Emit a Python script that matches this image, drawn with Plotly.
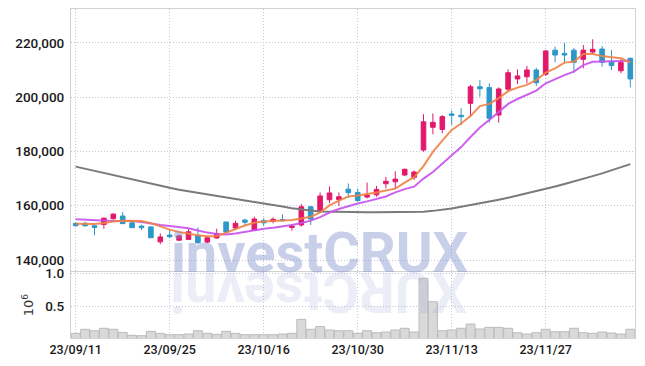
import plotly.graph_objects as go
from plotly.subplots import make_subplots

dates = (
    ["2023-09-%02d" % d for d in [11, 12, 13, 14, 15, 18, 19, 20, 21, 22, 25, 26, 27]]
    + ["2023-10-%02d" % d for d in [4, 5, 6, 10, 11, 12, 13, 16, 17, 18, 19, 20, 23, 24, 25, 26, 27, 30, 31]]
    + ["2023-11-%02d" % d for d in [1, 2, 3, 6, 7, 8, 9, 10, 13, 14, 15, 16, 17, 20, 21, 22, 23, 24, 27, 28, 29, 30]]
    + ["2023-12-%02d" % d for d in [1, 4, 5, 6, 7, 8]]
)

open_ = [153500, 153500, 152600, 153100, 155200, 156200, 153700, 152500, 152200, 146700,
         149200, 147300, 147600, 149100, 146600, 148100, 154000, 151800, 154700, 151000,
         154500, 154200, 154900, 152000, 152900, 159600, 158000, 162200, 162300, 166100,
         164900, 163200, 164000, 168100, 168800, 171300, 170400, 180500, 188900, 188100,
         193800, 193300, 197700, 203800, 203500, 193400, 202900, 206700, 207500, 210000,
         208400, 217300, 216100, 217300, 213900, 216600, 217700, 213000, 209700, 214300]
high = [153800, 154100, 153000, 155700, 157300, 157700, 154700, 153000, 152300, 149800,
        151300, 149400, 151500, 152000, 148700, 151500, 154200, 154500, 155200, 156000,
        155400, 155700, 156800, 153300, 160600, 159900, 164900, 167100, 164900, 168200,
        166300, 168500, 167300, 170600, 172700, 173700, 173000, 193700, 194000, 193400,
        195100, 195900, 204500, 206300, 205100, 203600, 210200, 210200, 211500, 210800,
        217300, 218600, 220000, 218000, 219200, 221300, 218800, 217300, 213900, 214500]
low = [152300, 152300, 149100, 151500, 154900, 153300, 151800, 151000, 148100, 145800,
       148000, 147000, 147400, 145800, 146200, 147900, 149800, 151000, 152500, 150900,
       152500, 153500, 154200, 150800, 152300, 152900, 157300, 161000, 159900, 163000,
       161500, 162700, 163300, 166400, 166100, 170900, 169500, 179900, 186300, 186700,
       189700, 189700, 192600, 200100, 190600, 190600, 202000, 204800, 205100, 204100,
       207800, 212800, 212400, 209000, 210600, 215900, 211200, 210000, 208800, 203600]
close = [152600, 152600, 152000, 155400, 156900, 153400, 151900, 151900, 148200, 148500,
         148600, 148900, 150400, 146400, 148200, 149700, 150300, 153500, 153900, 155100,
         153700, 155000, 154500, 152500, 159600, 155100, 163600, 164700, 163300, 164800,
         161900, 163900, 166000, 169000, 169800, 173400, 172400, 190900, 190700, 192800,
         193300, 192800, 203800, 203100, 192200, 203000, 209000, 207800, 210000, 205300,
         217000, 215500, 215500, 212800, 217300, 217600, 212800, 211600, 212700, 206700]

ma5 = [153400, 153300, 153300, 153600, 154200, 154500, 154500, 154400, 153600, 152300,
       151200, 150300, 149600, 149100, 148800, 148800, 150100, 151400, 152700, 153700,
       154200, 154400, 154600, 154700, 155300, 155900, 157500, 160100, 161900, 163400,
       163800, 164300, 164900, 165600, 166300, 168500, 170500, 174600, 179800, 184000,
       187900, 190300, 193000, 196700, 197500, 199600, 202200, 203500, 204500, 206300,
       209000, 210600, 212700, 213000, 215900, 215900, 215100, 214700, 214300, 212700]
ma10 = [155000, 154800, 154600, 154500, 154400, 154400, 154400, 154000, 153400, 152900,
        152500, 152000, 151700, 150900, 150100, 149600, 149400, 149800, 150400, 151000,
        151500, 151900, 152300, 152900, 153600, 154500, 155800, 157500, 158800, 159900,
        160800, 161600, 162400, 163400, 164900, 166100, 167000, 170000, 172400, 175400,
        178300, 181600, 185300, 188800, 191600, 194500, 197500, 199300, 200800, 202400,
        205100, 206700, 208100, 209400, 211800, 213000, 213100, 213300, 213400, 213400]
ma_long = [174400, 173600, 172800, 172000, 171300, 170500, 169700, 168900, 168100, 167300,
           166600, 165900, 165300, 164700, 164100, 163500, 163000, 162400, 161900, 161400,
           160900, 160300, 159700, 159100, 158600, 158200, 157900, 157800, 157700, 157700,
           157600, 157600, 157600, 157600, 157600, 157600, 157600, 157800, 158100, 158500,
           159000, 159600, 160200, 160800, 161500, 162200, 162900, 163700, 164500, 165300,
           166200, 167100, 168000, 168900, 169900, 170900, 171900, 173000, 174100, 175300]

volume = [0.105, 0.165, 0.144, 0.180, 0.165, 0.120, 0.076, 0.070, 0.135, 0.105,
          0.085, 0.085, 0.095, 0.144, 0.105, 0.090, 0.135, 0.105, 0.085, 0.085,
          0.085, 0.085, 0.095, 0.105, 0.313, 0.165, 0.205, 0.155, 0.144, 0.144,
          0.105, 0.144, 0.114, 0.125, 0.155, 0.180, 0.125, 0.920, 0.574, 0.144,
          0.155, 0.180, 0.243, 0.170, 0.194, 0.194, 0.180, 0.114, 0.095, 0.114,
          0.165, 0.129, 0.129, 0.180, 0.114, 0.105, 0.125, 0.110, 0.095, 0.165]

tick_dates = ["2023-09-11", "2023-09-25", "2023-10-16", "2023-10-30", "2023-11-13", "2023-11-27"]
tick_text = ["23/09/11", "23/09/25", "23/10/16", "23/10/30", "23/11/13", "23/11/27"]
price_ticks = [140000, 160000, 180000, 200000, 220000]
watermark = "investCRUX"

UP = "#e2186a"
DOWN = "#2c98c9"
GRID = "#c4c7dc"
BORDER = "#d2d2d2"
YFONT = dict(family="Roboto", size=13.5, color="#1a1a1a", weight=500)
XFONT = dict(family="Roboto", size=12.5, color="#1a1a1a", weight=500)

fig = make_subplots(rows=2, cols=1, shared_xaxes=True, vertical_spacing=0.003)

fig.add_trace(go.Candlestick(
    x=dates, open=open_, high=high, low=low, close=close,
    increasing=dict(line=dict(color=UP, width=1), fillcolor=UP),
    decreasing=dict(line=dict(color=DOWN, width=1), fillcolor=DOWN),
    whiskerwidth=0, showlegend=False, hoverinfo="skip"), row=1, col=1)

fig.add_trace(go.Scatter(x=dates, y=ma_long, mode="lines",
                         line=dict(color="#7a7a7a", width=2), showlegend=False), row=1, col=1)
fig.add_trace(go.Scatter(x=dates, y=ma10, mode="lines",
                         line=dict(color="rgba(200,80,235,0.9)", width=2), showlegend=False), row=1, col=1)
fig.add_trace(go.Scatter(x=dates, y=ma5, mode="lines",
                         line=dict(color="rgba(240,130,70,0.9)", width=2), showlegend=False), row=1, col=1)

fig.add_trace(go.Bar(x=dates, y=volume,
                     marker=dict(color="#d9d9d9", line=dict(color="#bbbbbb", width=1)),
                     showlegend=False), row=2, col=1)

axis_common = dict(type="category", range=[-0.5, len(dates) - 0.5],
                   tickvals=tick_dates, ticktext=tick_text,
                   showgrid=True, gridcolor=GRID, griddash="1px,2px", gridwidth=1,
                   showline=True, linecolor=BORDER, linewidth=1, mirror=True,
                   ticks="", rangeslider=dict(visible=False), fixedrange=True,
                   automargin=False)

fig.update_xaxes(**axis_common, showticklabels=False, row=1, col=1)
fig.update_xaxes(**axis_common, showticklabels=True, tickfont=XFONT, row=2, col=1)

fig.update_yaxes(range=[135950, 232450], tickvals=price_ticks, tickformat=",",
                 showgrid=True, gridcolor=GRID, griddash="1px,2px", gridwidth=1,
                 showline=True, linecolor=BORDER, linewidth=1, mirror=True,
                 ticks="", tickfont=YFONT, zeroline=False, automargin=False,
                 ticklabelstandoff=3, fixedrange=True,
                 domain=[0.2036, 1.0], row=1, col=1)
fig.update_yaxes(range=[0.036, 1.015], tickvals=[0.5, 1.0], tickformat=".1f",
                 showgrid=True, gridcolor=GRID, griddash="1px,2px", gridwidth=1,
                 showline=True, linecolor=BORDER, linewidth=1, mirror=True,
                 ticks="", tickfont=YFONT, zeroline=False, automargin=False,
                 ticklabelstandoff=3, fixedrange=True,
                 title=dict(text="10<sup>6</sup>", font=dict(family="DejaVu Sans", size=13, color="#333333"),
                            standoff=8),
                 domain=[0.0, 0.2006], row=2, col=1)

fig.add_annotation(xref="paper", yref="paper", x=0.44, y=0.258, yanchor="middle",
                   text="<b>%s</b>" % watermark, showarrow=False,
                   font=dict(family="Roboto", size=56, color="rgba(125,140,200,0.42)"))
fig.add_annotation(xref="paper", yref="paper", x=0.44, y=0.14, yanchor="middle",
                   text="<b>%s</b>" % watermark[::-1], textangle=180, showarrow=False,
                   font=dict(family="Roboto", size=56, color="rgba(125,140,200,0.15)"))

fig.update_layout(width=645, height=366, margin=dict(l=71, r=10, t=9, b=28, autoexpand=False),
                  plot_bgcolor="white", paper_bgcolor="white", bargap=0.05,
                  hovermode=False)

fig.write_html("out.html", config={"displayModeBar": False},
               post_script="document.body.style.margin='0';document.body.style.padding='0';")
